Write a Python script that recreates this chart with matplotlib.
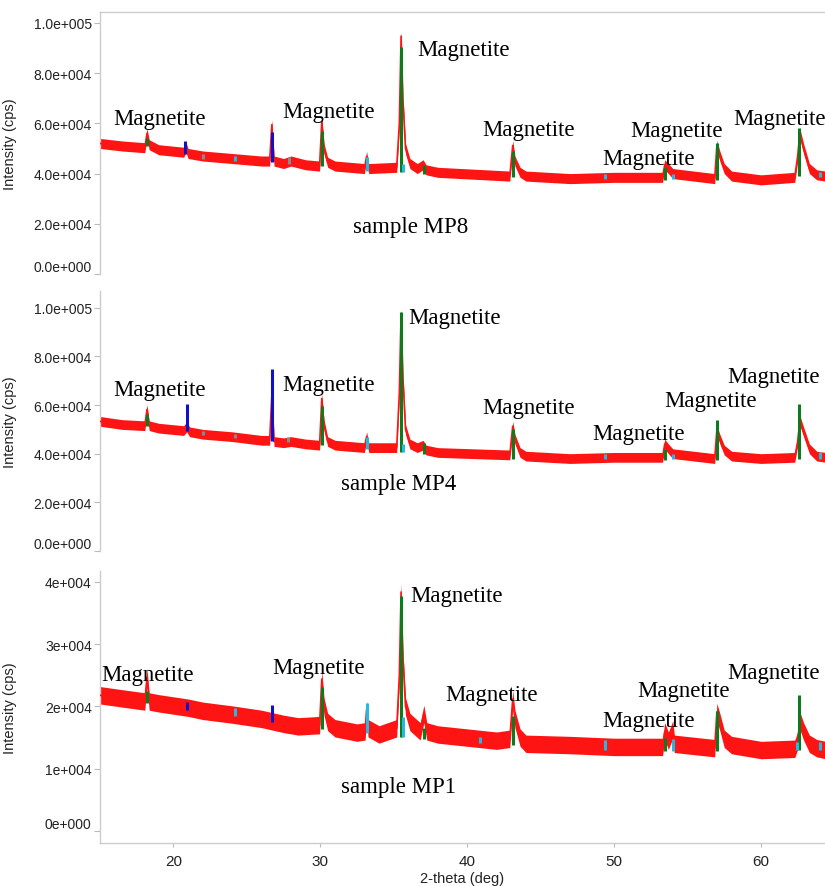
import matplotlib
matplotlib.use("Agg")
import matplotlib.pyplot as plt
from matplotlib.ticker import FuncFormatter, MultipleLocator
import numpy as np

# ---- traces (2-theta in deg, counts in thousands of cps) ----
mp8_tt = [15.0, 16.5, 18.05, 18.2, 18.35, 19.0, 20.7, 20.85, 21.0, 22.0, 24.0, 26.0,
          26.55, 26.7, 26.85, 27.5, 28.0, 29.0, 29.95, 30.1, 30.25, 30.5, 31.0, 33.0,
          33.15, 33.3, 35.2, 35.38, 35.5, 35.62, 35.8, 36.1, 36.6, 37.0, 37.2, 38.0,
          42.9, 43.1, 43.25, 43.6, 44.0, 47.0, 50.0, 53.3, 53.45, 53.7, 54.0, 56.85,
          57.0, 57.2, 57.5, 58.0, 60.0, 62.3, 62.5, 62.65, 62.9, 63.3, 63.8, 64.4]
mp8_k = [52.0, 51.0, 50.3, 56.0, 51.5, 49.5, 48.5, 50.5, 48.0, 47.0, 46.0, 45.0,
         45.0, 59.5, 45.0, 44.0, 45.0, 43.5, 43.0, 60.7, 50.0, 44.5, 43.0, 42.0,
         46.8, 42.0, 42.5, 60.0, 94.8, 70.0, 50.0, 44.0, 42.0, 43.5, 41.5, 40.5,
         39.0, 51.2, 45.0, 40.5, 39.0, 38.0, 38.5, 38.5, 43.5, 42.0, 40.0, 38.0,
         51.2, 47.0, 42.0, 39.0, 37.5, 38.5, 47.0, 56.0, 50.0, 42.0, 39.5, 39.0]

mp4_tt = [15.0, 16.5, 18.05, 18.2, 18.35, 19.0, 20.7, 20.9, 21.1, 22.0, 24.0, 26.0,
          26.55, 26.7, 26.85, 27.5, 28.0, 29.0, 29.95, 30.1, 30.25, 30.5, 31.0, 33.0,
          33.15, 33.3, 35.2, 35.38, 35.5, 35.62, 35.8, 36.1, 36.6, 37.0, 37.2, 38.0,
          42.9, 43.1, 43.25, 43.6, 44.0, 47.0, 50.0, 53.3, 53.45, 53.7, 54.0, 56.85,
          57.0, 57.2, 57.5, 58.0, 60.0, 62.3, 62.5, 62.65, 62.9, 63.3, 63.8, 64.4]
mp4_k = [53.3, 52.0, 51.5, 58.2, 51.5, 50.5, 49.5, 51.0, 49.0, 48.0, 47.0, 45.5,
         45.5, 64.0, 45.0, 44.5, 45.0, 44.0, 43.5, 62.7, 52.0, 45.0, 43.5, 42.5,
         47.0, 42.5, 42.5, 65.0, 97.6, 72.0, 50.0, 44.0, 42.5, 43.5, 41.5, 40.5,
         39.5, 51.3, 46.0, 40.5, 39.0, 38.0, 38.5, 38.5, 44.0, 42.0, 40.0, 38.0,
         49.7, 46.0, 41.5, 39.0, 38.0, 38.5, 45.0, 53.7, 49.0, 42.0, 39.0, 38.5]

mp1_tt = [15.0, 16.5, 18.05, 18.2, 18.35, 19.0, 21.0, 22.0, 24.0, 26.0, 27.5, 28.5,
          29.95, 30.1, 30.25, 30.5, 31.0, 32.5, 33.05, 33.15, 33.25, 34.0, 35.2, 35.38,
          35.5, 35.62, 35.8, 36.1, 36.8, 37.05, 37.25, 38.0, 40.0, 42.0, 42.9, 43.1,
          43.25, 43.6, 44.0, 47.0, 50.0, 53.3, 53.45, 53.7, 54.0, 54.1, 56.85, 57.0,
          57.2, 57.5, 58.0, 60.0, 62.3, 62.5, 62.65, 62.9, 63.3, 63.8, 64.4]
mp1_k = [21.8, 21.3, 20.8, 24.7, 20.8, 20.5, 19.8, 19.3, 18.7, 18.0, 17.2, 16.8,
         17.0, 24.4, 20.0, 17.5, 16.5, 15.8, 16.0, 19.5, 16.5, 15.5, 16.5, 25.0,
         38.4, 28.0, 20.0, 17.5, 16.0, 18.8, 16.0, 15.5, 15.0, 14.5, 14.8, 21.2,
         18.0, 15.0, 14.0, 13.8, 13.5, 13.5, 16.0, 14.5, 16.3, 14.0, 13.3, 19.1,
         17.5, 14.8, 13.8, 13.0, 13.2, 14.5, 17.7, 16.0, 14.0, 13.3, 13.0]

# ---- reference sticks: position, bottom, top (thousands of cps), phase ----
mp8_stick_pos = [18.2, 30.1, 35.5, 37.05, 43.1, 53.45, 57.0, 62.6, 20.8, 26.7,
                 24.2, 33.15, 35.62, 49.4, 54.0, 64.0, 22.0, 27.9]
mp8_stick_lo = [50.8, 43.0, 40.8, 40.0, 38.5, 37.3, 37.3, 38.9, 48.0, 44.8,
                45.0, 41.0, 40.8, 38.0, 38.0, 38.5, 46.0, 44.0]
mp8_stick_hi = [54.3, 57.0, 90.5, 43.6, 48.8, 42.8, 52.0, 58.0, 52.8, 56.7,
                47.0, 46.8, 44.0, 40.0, 40.0, 40.5, 48.0, 46.5]
mp8_stick_phase = ["g"] * 8 + ["b"] * 2 + ["c"] * 6 + ["k"] * 2

mp4_stick_pos = [18.2, 30.1, 35.5, 37.05, 43.1, 53.45, 57.0, 62.6, 20.9, 26.7,
                 33.15, 35.62, 49.4, 54.0, 64.0, 22.0, 24.2, 27.8]
mp4_stick_lo = [51.3, 43.6, 40.8, 40.0, 37.9, 37.5, 37.5, 37.9, 49.3, 45.2,
                42.0, 40.8, 38.0, 38.0, 38.0, 47.5, 46.5, 45.0]
mp4_stick_hi = [56.2, 59.8, 98.4, 44.4, 50.1, 42.0, 53.7, 60.6, 60.6, 74.8,
                46.9, 44.0, 40.0, 40.0, 40.5, 49.5, 48.0, 47.0]
mp4_stick_phase = ["g"] * 8 + ["b"] * 2 + ["c"] * 5 + ["k"] * 3

mp1_stick_pos = [18.2, 30.1, 35.5, 37.05, 43.1, 53.45, 57.0, 62.6, 20.9, 26.7,
                 24.2, 33.15, 35.65, 40.85, 49.4, 54.0, 62.45, 64.0]
mp1_stick_lo = [20.5, 16.4, 15.1, 14.8, 13.8, 12.8, 12.8, 13.0, 19.4, 17.5,
                18.5, 15.7, 15.1, 14.1, 13.0, 12.8, 13.0, 13.0]
mp1_stick_hi = [22.5, 23.1, 37.7, 16.5, 18.5, 14.9, 19.3, 21.8, 20.7, 20.2,
                19.7, 20.5, 18.3, 15.1, 14.6, 14.8, 14.3, 14.3]
mp1_stick_phase = ["g"] * 8 + ["b"] * 2 + ["c"] * 8

# ---- labels: left x (deg), centre y (thousands of cps) ----
mp8_lab_x = [15.9, 27.4, 36.6, 41.0, 51.1, 49.2, 58.1]
mp8_lab_y = [61.9, 64.7, 89.3, 57.5, 57.1, 46.0, 61.9]
mp4_lab_x = [15.9, 27.4, 36.0, 41.0, 48.55, 53.45, 57.7]
mp4_lab_y = [66.3, 68.4, 95.9, 59.0, 48.5, 61.9, 71.6]
mp1_lab_x = [15.1, 26.75, 36.1, 38.5, 49.2, 51.6, 57.7]
mp1_lab_y = [25.2, 26.3, 37.9, 22.0, 17.8, 22.6, 25.5]

sample_names = ["sample MP8", "sample MP4", "sample MP1"]
sample_x = [32.2, 31.4, 31.4]
sample_y = [19.0, 27.8, 7.2]

phase_colors = {"g": "#0d7a1e", "b": "#1010c8", "c": "#26b8e0", "k": "#8a8a8a"}
noise = [2.0, 2.0, 1.4]   # half width of the noisy band, thousands of cps


def sci3(v, pos, digits):
    s = f"{v:.{digits}e}"
    m, e = s.split("e")
    return f"{m}e{e[0]}{int(e[1:]):03d}"


fig = plt.figure(figsize=(8.25, 8.87), dpi=100)
boxes = [[0.1212, 0.6900, 0.8788, 0.2954],
         [0.1212, 0.3777, 0.8788, 0.2931],
         [0.1212, 0.0485, 0.8788, 0.3067]]
ylims = [(0, 104400), (0, 106900), (-1930, 41770)]
ysteps = [20000, 20000, 10000]
ydigits = [1, 1, 0]

traces = [(mp8_tt, mp8_k), (mp4_tt, mp4_k), (mp1_tt, mp1_k)]
sticks = [(mp8_stick_pos, mp8_stick_lo, mp8_stick_hi, mp8_stick_phase),
          (mp4_stick_pos, mp4_stick_lo, mp4_stick_hi, mp4_stick_phase),
          (mp1_stick_pos, mp1_stick_lo, mp1_stick_hi, mp1_stick_phase)]
labels = [(mp8_lab_x, mp8_lab_y), (mp4_lab_x, mp4_lab_y), (mp1_lab_x, mp1_lab_y)]

sans = "Liberation Sans"
serif = "Liberation Serif"
red = "#ff1414"

for i in range(3):
    ax = fig.add_axes(boxes[i])
    tt = np.array(traces[i][0])
    cps = np.array(traces[i][1]) * 1000
    ax.fill_between(tt, cps - noise[i] * 1000, cps + noise[i] * 1000,
                    color=red, lw=0, zorder=2)
    ax.plot(tt, cps, color=red, lw=1.2, zorder=3)

    pos, lo, hi, ph = sticks[i]
    for p, a, b, c in zip(pos, lo, hi, ph):
        ax.vlines(p, a * 1000, b * 1000, color=phase_colors[c], lw=2.2, zorder=4)

    for x, y in zip(*labels[i]):
        ax.text(x, y * 1000, "Magnetite", family=serif, fontsize=16.5,
                ha="left", va="center", zorder=5)
    ax.text(sample_x[i], sample_y[i] * 1000, sample_names[i], family=serif,
            fontsize=16.5, ha="left", va="center", zorder=5)

    ax.set_xlim(15, 64.36)
    ax.set_ylim(*ylims[i])
    ax.yaxis.set_major_locator(MultipleLocator(ysteps[i]))
    d = ydigits[i]
    ax.yaxis.set_major_formatter(FuncFormatter(lambda v, p, d=d: sci3(v, p, d)))
    ax.xaxis.set_major_locator(MultipleLocator(10))

    for s in ax.spines.values():
        s.set_color("#cccccc")
        s.set_linewidth(1.0)
    ax.spines["right"].set_visible(False)
    if i != 0:
        ax.spines["top"].set_visible(False)
    if i != 2:
        ax.spines["bottom"].set_visible(False)
        ax.tick_params(axis="x", bottom=False, labelbottom=False)

    ax.tick_params(axis="both", direction="out", length=4, width=0.8,
                   color="#bbbbbb", labelcolor="#222222", labelsize=10, pad=2)
    for t in ax.get_yticklabels():
        t.set_family(sans)
    for t in ax.get_xticklabels():
        t.set_family(sans)
    ax.set_ylabel("Intensity (cps)", family=sans, fontsize=10.5, color="#222222")
    ax.yaxis.set_label_coords(-0.114, 0.5)

    if i == 2:
        ax.tick_params(axis="x", length=3, pad=5, labelsize=11)
        ax.set_xlabel("2-theta (deg)", family=sans, fontsize=10.5,
                      color="#222222", labelpad=2)

    fig.canvas.draw()
    for t in ax.get_yticklabels():
        if t.get_text().startswith("0"):
            t.set_verticalalignment("bottom")

fig.savefig("out.png", dpi=100)
